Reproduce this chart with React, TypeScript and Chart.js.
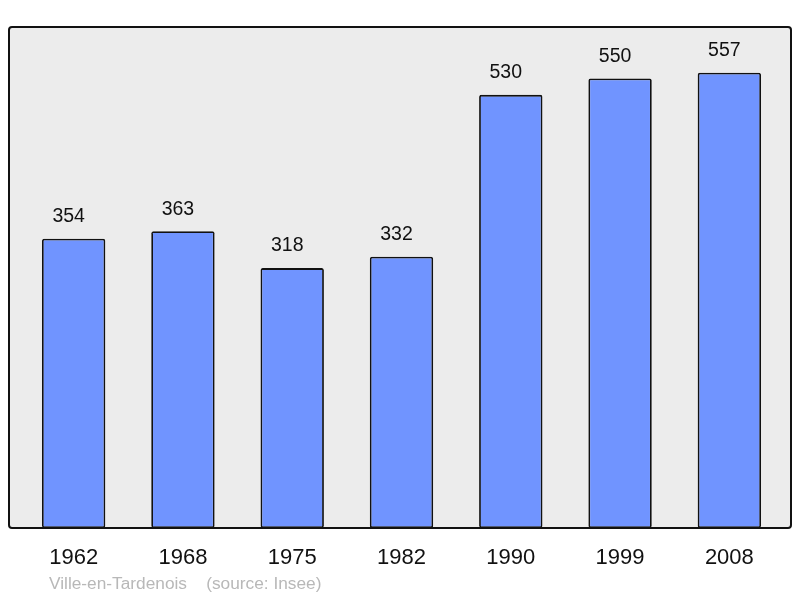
import React, { useEffect, useRef } from "react";
import { Chart, registerables } from "chart.js";

Chart.register(...registerables);

const categories = ["1962", "1968", "1975", "1982", "1990", "1999", "2008"];
const population = [354, 363, 318, 332, 530, 550, 557];
const sourceNote = "Ville-en-Tardenois    (source: Insee)";

const FONT = "'Liberation Sans', Arial, sans-serif";

function roundRect(ctx: CanvasRenderingContext2D, x: number, y: number, w: number, h: number, r: number) {
  ctx.beginPath();
  ctx.moveTo(x + r, y);
  ctx.lineTo(x + w - r, y);
  ctx.arcTo(x + w, y, x + w, y + r, r);
  ctx.lineTo(x + w, y + h - r);
  ctx.arcTo(x + w, y + h, x + w - r, y + h, r);
  ctx.lineTo(x + r, y + h);
  ctx.arcTo(x, y + h, x, y + h - r, r);
  ctx.lineTo(x, y + r);
  ctx.arcTo(x, y, x + r, y, r);
  ctx.closePath();
}

function framePath(ctx: CanvasRenderingContext2D, a: any) {
  roundRect(ctx, a.left - 10, a.top, a.right - a.left + 17, a.bottom - a.top, 3);
}

const framePlugin = {
  id: "frame",
  beforeDatasetsDraw(chart: any) {
    const { ctx, chartArea } = chart;
    ctx.save();
    framePath(ctx, chartArea);
    ctx.fillStyle = "#ececec";
    ctx.fill();
    ctx.restore();
  },
  afterDatasetsDraw(chart: any) {
    const { ctx, chartArea } = chart;
    ctx.save();
    framePath(ctx, chartArea);
    ctx.lineWidth = 2;
    ctx.strokeStyle = "#111";
    ctx.stroke();
    // value labels
    const meta = chart.getDatasetMeta(0);
    ctx.fillStyle = "#111";
    ctx.font = `19.5px ${FONT}`;
    ctx.textAlign = "center";
    ctx.textBaseline = "middle";
    meta.data.forEach((bar: any, i: number) => {
      ctx.fillText(String(population[i]), bar.x - 5, bar.y - 22);
    });
    ctx.fillStyle = "#b8b8b8";
    ctx.font = `17.3px ${FONT}`;
    ctx.textAlign = "left";
    ctx.fillText(sourceNote, 49, 584);
    ctx.restore();
  },
};

export default function App() {
  const ref = useRef<HTMLCanvasElement>(null);
  useEffect(() => {
    document.body.style.margin = "0";
    const chart = new Chart(ref.current!, {
      type: "bar",
      data: {
        labels: categories,
        datasets: [
          {
            data: population,
            backgroundColor: "#7094ff",
            borderColor: "#111",
            borderWidth: 1.8,
            borderRadius: 2,
            borderSkipped: false,
            barPercentage: 0.58,
            categoryPercentage: 1,
          },
        ],
      },
      options: {
        responsive: false,
        animation: false,
        layout: { padding: { left: 19, right: 16, top: 27, bottom: 30 } },
        plugins: { legend: { display: false }, tooltip: { enabled: false }, title: { display: false } },
        scales: {
          x: {
            grid: { display: false, drawTicks: false },
            border: { display: false },
            ticks: { color: "#111", font: { size: 22, family: FONT }, padding: 17, maxRotation: 0 },
            afterFit: (s: any) => {
              s.height = 40;
            },
          },
          y: { display: false, min: 0, max: 613 },
        },
      },
      plugins: [framePlugin],
    });
    return () => chart.destroy();
  }, []);
  return <canvas ref={ref} width={800} height={598} style={{ display: "block" }} />;
}
